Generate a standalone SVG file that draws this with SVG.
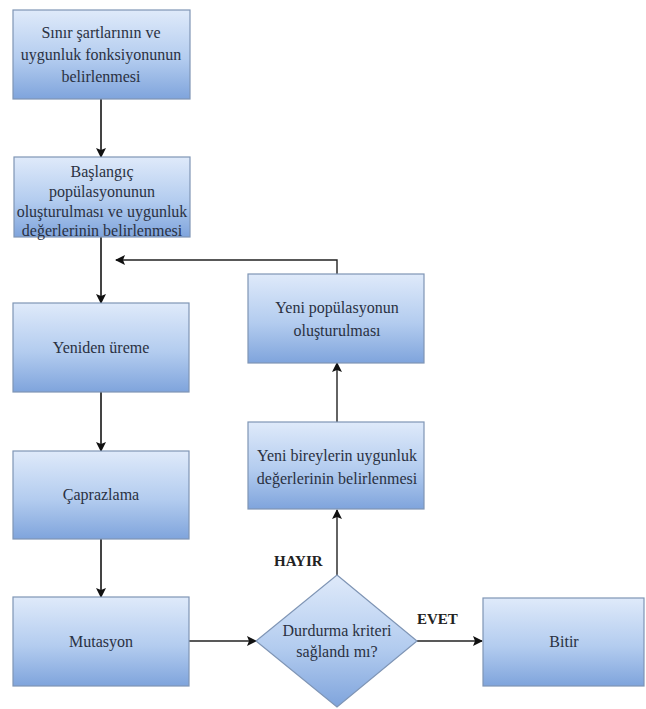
<svg xmlns="http://www.w3.org/2000/svg" width="646" height="709" viewBox="0 0 646 709">
<defs>
<linearGradient id="g" x1="0" y1="0" x2="0" y2="1">
<stop offset="0" stop-color="#dfeafa"/>
<stop offset="0.55" stop-color="#b3ccef"/>
<stop offset="1" stop-color="#7fa4dc"/>
</linearGradient>
<marker id="ah" viewBox="0 0 10 10" refX="9" refY="5" markerWidth="10" markerHeight="10" markerUnits="userSpaceOnUse" orient="auto">
<path d="M0,0 L10,5 L0,10 L2,5 z" fill="#111"/>
</marker>
<style>
.box{fill:url(#g);stroke:#7f95b5;stroke-width:1.2}
.t{font-family:"Liberation Serif","DejaVu Serif","Times New Roman",serif;font-size:16px;fill:#2a3142;text-anchor:middle}
.lb{font-family:"Liberation Serif","DejaVu Serif","Times New Roman",serif;font-size:15px;font-weight:bold;fill:#222}
.c{stroke:#444;stroke-width:2;fill:none}
.c2{stroke:#222;stroke-width:1.4;fill:none}
</style>
</defs>
<rect width="646" height="709" fill="#fff"/>
<g id="connectors">
<line class="c" x1="101" y1="99" x2="101" y2="157" marker-end="url(#ah)"/>
<line class="c" x1="101" y1="237" x2="101" y2="303" marker-end="url(#ah)"/>
<line class="c" x1="101" y1="392" x2="101" y2="451" marker-end="url(#ah)"/>
<line class="c" x1="101" y1="539" x2="101" y2="597" marker-end="url(#ah)"/>
<line class="c2" x1="189" y1="641" x2="256" y2="641" marker-end="url(#ah)"/>
<line class="c2" x1="417" y1="641" x2="482" y2="641" marker-end="url(#ah)"/>
<line class="c2" x1="337" y1="575" x2="337" y2="510" marker-end="url(#ah)"/>
<line class="c2" x1="337" y1="422" x2="337" y2="363" marker-end="url(#ah)"/>
<polyline class="c2" points="337,274 337,260 116,260" marker-end="url(#ah)"/>
</g>
<g id="n1"><rect class="box" x="13" y="10" width="177" height="89"/>
<text class="t" x="101" y="38">Sınır şartlarının ve</text>
<text class="t" x="101" y="60">uygunluk fonksiyonunun</text>
<text class="t" x="101" y="82">belirlenmesi</text></g>
<g id="n2"><rect class="box" x="14" y="157" width="176" height="80"/>
<text class="t" x="102" y="177">Başlangıç</text>
<text class="t" x="102" y="197">popülasyonunun</text>
<text class="t" x="102" y="217">oluşturulması ve uygunluk</text>
<text class="t" x="102" y="236">değerlerinin belirlenmesi</text></g>
<g id="n3"><rect class="box" x="13" y="303" width="176" height="89"/>
<text class="t" x="101" y="353">Yeniden üreme</text></g>
<g id="n4"><rect class="box" x="13" y="451" width="176" height="88"/>
<text class="t" x="101" y="500">Çaprazlama</text></g>
<g id="n5"><rect class="box" x="13" y="597" width="176" height="89"/>
<text class="t" x="101" y="647">Mutasyon</text></g>
<g id="n6"><rect class="box" x="248" y="274" width="176" height="89"/>
<text class="t" x="337" y="313">Yeni popülasyonun</text>
<text class="t" x="337" y="336">oluşturulması</text></g>
<g id="n7"><rect class="box" x="248" y="422" width="176" height="87"/>
<text class="t" x="337" y="461">Yeni bireylerin uygunluk</text>
<text class="t" x="337" y="484">değerlerinin belirlenmesi</text></g>
<g id="n8"><polygon class="box" points="337,575 417,641 337,707 256,641"/>
<text class="t" x="337" y="636">Durdurma kriteri</text>
<text class="t" x="337" y="657">sağlandı mı?</text></g>
<g id="n9"><rect class="box" x="483" y="598" width="161" height="88"/>
<text class="t" x="564" y="647">Bitir</text></g>
<g id="labels">
<text class="lb" x="274" y="566">HAYIR</text>
<text class="lb" x="417" y="624">EVET</text>
</g>
</svg>
